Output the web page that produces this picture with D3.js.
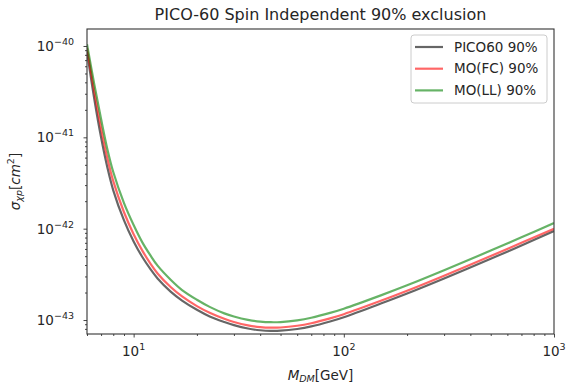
<!DOCTYPE html>
<html>
<head>
<meta charset="utf-8">
<script src="https://cdn.jsdelivr.net/npm/d3@7"></script>
<style>
    body { margin: 0; background: #fff; }
    text { font-family: "DejaVu Sans", sans-serif; fill: #262626; }
</style>
</head>
<body>
<svg id="chart" width="566" height="385"></svg>
<script>
// dark matter mass in GeV
const masses = [6, 6.5, 7, 7.5, 8, 9, 10, 11, 12, 13, 15, 17, 20, 23, 27, 30, 35, 40, 45, 50, 60, 70, 86, 100, 150, 200, 300, 500, 700, 1000];
// log10 of the 90% cross section limit, cm^2
const pico60Log = [-40.06, -40.58, -41.0, -41.33, -41.58, -41.91, -42.14, -42.31, -42.44, -42.545, -42.689, -42.787, -42.888, -42.961, -43.022, -43.056, -43.093, -43.112, -43.119, -43.117, -43.098, -43.07, -43.016, -42.969, -42.82, -42.71, -42.545, -42.33, -42.183, -42.025];
const moFCLog = [-40.02, -40.5, -40.9, -41.23, -41.48, -41.82, -42.06, -42.24, -42.38, -42.49, -42.639, -42.742, -42.848, -42.921, -42.987, -43.021, -43.058, -43.077, -43.084, -43.082, -43.063, -43.035, -42.982, -42.936, -42.79, -42.68, -42.515, -42.3, -42.155, -42.0];
const moLLLog = [-39.98, -40.42, -40.8, -41.13, -41.38, -41.72, -41.96, -42.15, -42.29, -42.405, -42.559, -42.672, -42.778, -42.856, -42.927, -42.961, -42.998, -43.017, -43.024, -43.022, -43.003, -42.975, -42.922, -42.876, -42.73, -42.62, -42.455, -42.24, -42.095, -41.938];

const seriesNames = ['PICO60 90%', 'MO(FC) 90%', 'MO(LL) 90%'];
const seriesColors = ['#000000', '#ff0000', '#008000'];
const xDecades = [1, 2, 3];
const yDecades = [-40, -41, -42, -43];

const margin = { top: 29, right: 12, bottom: 51, left: 87 };
const width = 566 - margin.left - margin.right;
const height = 385 - margin.top - margin.bottom;

const svg = d3.select('#chart');
const g = svg.append('g').attr('transform', `translate(${margin.left}, ${margin.top})`);

// Scales
const x = d3.scaleLog().domain([6, 1000]).range([0, width]);
const y = d3.scaleLog().domain([Math.pow(10, -43.153), Math.pow(10, -39.814)]).range([height, 0]);

// minor tick values inside the domain
let xMinor = [], yMinor = [];
for (let e = 0; e <= 3; e++) for (let k = 2; k <= 9; k++) {
    let v = k * Math.pow(10, e);
    if (v >= 6 && v <= 1000) xMinor.push(v);
}
for (let e = -44; e <= -40; e++) for (let k = 2; k <= 9; k++) {
    let v = k * Math.pow(10, e);
    if (v >= y.domain()[0] && v <= y.domain()[1]) yMinor.push(v);
}

g.append('clipPath').attr('id', 'clip')
    .append('rect').attr('width', width).attr('height', height);

// Lines
const line = d3.line()
    .x(d => x(d[0]))
    .y(d => y(Math.pow(10, d[1])))
    .curve(d3.curveCatmullRom.alpha(0.5));

[pico60Log, moFCLog, moLLLog].forEach((vals, i) => {
    g.append('path')
        .attr('clip-path', 'url(#clip)')
        .attr('d', line(masses.map((m, j) => [m, vals[j]])))
        .attr('fill', 'none')
        .attr('stroke', seriesColors[i])
        .attr('stroke-opacity', 0.6)
        .attr('stroke-width', 2.2);
});

// Axes
const xMajor = d3.axisBottom(x).tickValues(xDecades.map(e => Math.pow(10, e)))
    .tickSize(3.5).tickFormat('');
const xMin = d3.axisBottom(x).tickValues(xMinor).tickSize(2).tickFormat('');
const yMajor = d3.axisLeft(y).tickValues(yDecades.map(e => Math.pow(10, e)))
    .tickSize(3.5).tickFormat('');
const yMin = d3.axisLeft(y).tickValues(yMinor).tickSize(2).tickFormat('');

[g.append('g').attr('transform', `translate(0, ${height})`).call(xMajor),
 g.append('g').attr('transform', `translate(0, ${height})`).call(xMin),
 g.append('g').call(yMajor),
 g.append('g').call(yMin)].forEach(ax => {
    ax.select('.domain').remove();
    ax.selectAll('line').attr('stroke', '#333').attr('stroke-width', 0.9);
});

// frame
g.append('rect').attr('width', width).attr('height', height)
    .attr('fill', 'none').attr('stroke', '#333').attr('stroke-width', 1.1);

// tick labels with superscripts
xDecades.forEach(e => {
    let t = g.append('text')
        .attr('x', x(Math.pow(10, e)))
        .attr('y', height + 22)
        .attr('text-anchor', 'middle')
        .attr('font-size', 13.5);
    t.append('tspan').text('10');
    t.append('tspan').attr('dy', -6).attr('font-size', 9.5).text(e);
});
yDecades.forEach(e => {
    let t = g.append('text')
        .attr('x', -13)
        .attr('y', y(Math.pow(10, e)) + 5)
        .attr('text-anchor', 'end')
        .attr('font-size', 13.5);
    t.append('tspan').text('10');
    t.append('tspan').attr('dy', -6).attr('font-size', 9.5).text('\u2212' + (-e));
});

// title and axis labels
svg.append('text')
    .attr('x', margin.left + width / 2)
    .attr('y', 20)
    .attr('text-anchor', 'middle')
    .attr('font-size', 16)
    .text('PICO-60 Spin Independent 90% exclusion');

let xl = svg.append('text')
    .attr('x', margin.left + width / 2)
    .attr('y', 380)
    .attr('text-anchor', 'middle')
    .attr('font-size', 13.5);
xl.append('tspan').attr('font-style', 'italic').text('M');
xl.append('tspan').attr('font-style', 'italic').attr('font-size', 9.5).attr('dy', 2).text('DM');
xl.append('tspan').attr('dy', -2).text('[GeV]');

let yl = svg.append('text')
    .attr('transform', `translate(20, ${margin.top + height / 2}) rotate(-90)`)
    .attr('text-anchor', 'middle')
    .attr('font-size', 13.5);
yl.append('tspan').attr('font-style', 'italic').text('\u03c3');
yl.append('tspan').attr('font-style', 'italic').attr('font-size', 9.5).attr('dy', 2).text('\u03c7p');
yl.append('tspan').attr('dy', -2).text('[');
yl.append('tspan').attr('font-style', 'italic').text('cm');
yl.append('tspan').attr('font-size', 9.5).attr('dy', -6).text('2');
yl.append('tspan').attr('dy', 6).text(']');

// Legend
const legend = svg.append('g').attr('transform', 'translate(411, 35)');
legend.append('rect')
    .attr('width', 136).attr('height', 68).attr('rx', 3)
    .attr('fill', '#fff').attr('fill-opacity', 0.8)
    .attr('stroke', '#ccc').attr('stroke-width', 1);
seriesNames.forEach((name, i) => {
    let row = legend.append('g').attr('transform', `translate(0, ${12 + i * 21.7})`);
    row.append('line')
        .attr('x1', 4).attr('x2', 32)
        .attr('stroke', seriesColors[i]).attr('stroke-opacity', 0.6).attr('stroke-width', 2.2);
    row.append('text').attr('x', 43).attr('y', 4.5).attr('font-size', 13.5).text(name);
});
</script>
</body>
</html>
